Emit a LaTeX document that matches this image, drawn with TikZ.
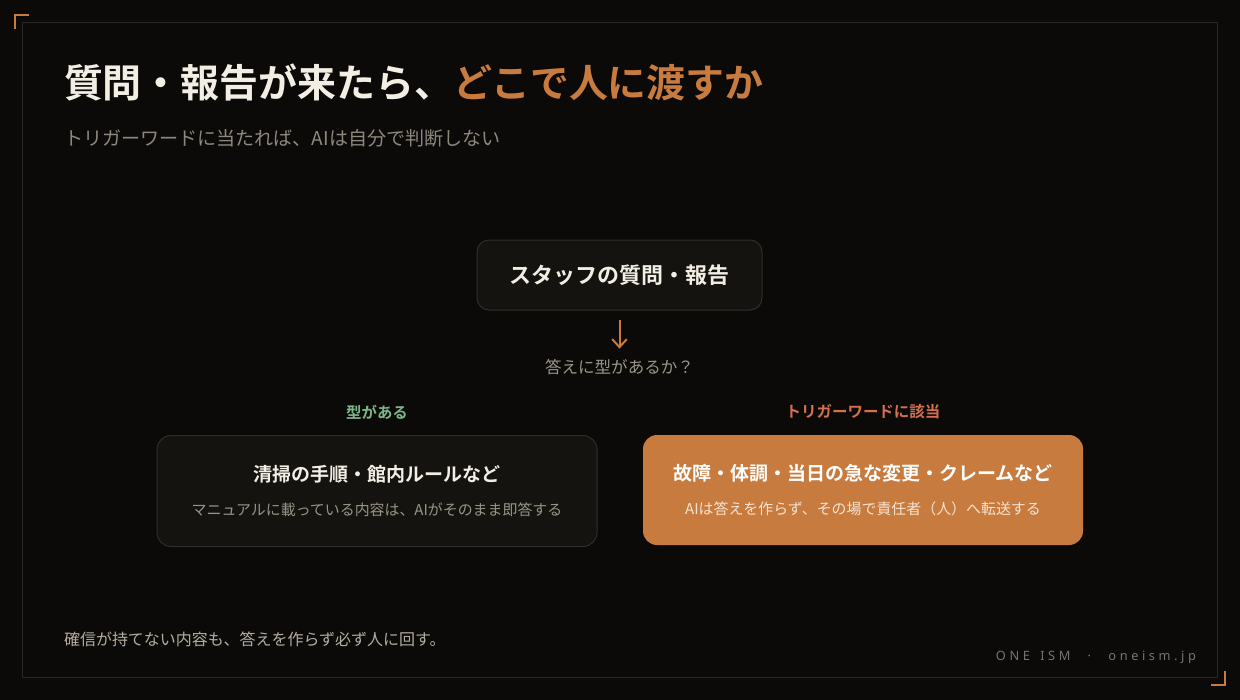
\documentclass[tikz,border=0pt]{standalone}
\usepackage{fontspec}
\usetikzlibrary{arrows.meta}
\newfontfamily\jp[BoldFont={Noto Sans CJK JP Bold}]{Noto Sans CJK JP}
\newfontfamily\brandfont[LetterSpace=28,WordSpace=1.5]{Noto Sans}
\definecolor{bgc}{HTML}{0B0A09}
\definecolor{framec}{HTML}{2A2826}
\definecolor{accent}{HTML}{C87B3E}
\definecolor{cardfill}{HTML}{141310}
\definecolor{cardline}{HTML}{2F2D29}
\definecolor{titlec}{HTML}{F3EEE4}
\definecolor{subc}{HTML}{8E887C}
\definecolor{qc}{HTML}{9B9588}
\definecolor{greenc}{HTML}{7DB58A}
\definecolor{redc}{HTML}{D4704F}
\definecolor{cardsub}{HTML}{9A9486}
\definecolor{hotsub}{HTML}{F6E3D0}
\definecolor{footc}{HTML}{B4AD9F}
\definecolor{brandc}{HTML}{77736C}
\begin{document}
\begin{tikzpicture}[x=0.75pt,y=-0.75pt,
  txt/.style={inner sep=0pt,outer sep=0pt},
  card/.style={draw=cardline,fill=cardfill,line width=0.75pt,inner sep=0pt},
  hotcard/.style={fill=accent,inner sep=0pt},
  bracket/.style={draw=accent,line width=1.5pt},
  cardtitle/.style={txt,font=\jp\bfseries\fontsize{14.25pt}{14.25pt}\selectfont},
  cardsubtxt/.style={txt,font=\jp\fontsize{11.2pt}{11.2pt}\selectfont},
  label/.style={txt,font=\jp\bfseries\fontsize{11.6pt}{11.6pt}\selectfont}]
\fill[bgc] (0,0) rectangle (1240,700);
\draw[framec,line width=0.75pt] (22.5,22.5) rectangle (1217.5,677.5);
\draw[bracket] (15,29) -- (15,15) -- (29,15);
\draw[bracket] (1225,671) -- (1225,685) -- (1211,685);
% title
\node[txt,anchor=west,font=\jp\bfseries\fontsize{29.2pt}{29.2pt}\selectfont,text=titlec] (title) at (64,82)
  {質問・報告が来たら、\textcolor{accent}{どこで人に渡すか}};
\node[txt,anchor=west,font=\jp\fontsize{14.3pt}{14.3pt}\selectfont,text=subc] (subtitle) at (64,138)
  {トリガーワードに当たれば、AIは自分で判断しない};
% top box
\node[card,rounded corners=9pt,minimum width=213.75pt,minimum height=52.5pt] (top) at (619.5,275) {};
\node[txt,font=\jp\bfseries\fontsize{16.5pt}{16.5pt}\selectfont,text=titlec] (toptxt) at (top.center) {スタッフの質問・報告};
\node[txt,font=\jp\fontsize{12.4pt}{12.4pt}\selectfont,text=qc] (q) at (619.5,367) {答えに型があるか？};
\draw[accent,line width=1.5pt,-{Straight Barb[length=6pt,width=11pt]},shorten <=7pt,shorten >=8pt] (top.south) -- (q.north);
% labels
\node[label,text=greenc] (lab1) at (377,412) {型がある};
\node[label,text=redc] (lab2) at (863,412) {トリガーワードに該当};
% left card
\node[card,rounded corners=10.5pt,minimum width=330pt,minimum height=83.25pt] (left) at (377,491) {};
\node[cardtitle,text=titlec] (lefttitle) at (377,474) {清掃の手順・館内ルールなど};
\node[cardsubtxt,text=cardsub] (leftsub) at (377,510) {マニュアルに載っている内容は、AIがそのまま即答する};
% right card
\node[hotcard,rounded corners=10.5pt,minimum width=330pt,minimum height=82.5pt] (right) at (863,490) {};
\node[cardtitle,text=white] (righttitle) at (863,473) {故障・体調・当日の急な変更・クレームなど};
\node[cardsubtxt,text=hotsub] (rightsub) at (863,509) {AIは答えを作らず、その場で責任者（人）へ転送する};
% footer
\node[txt,anchor=west,font=\jp\fontsize{12pt}{12pt}\selectfont,text=footc] (foot) at (64,639) {確信が持てない内容も、答えを作らず必ず人に回す。};
\node[txt,anchor=east,font=\brandfont\fontsize{9.6pt}{9.6pt}\selectfont,text=brandc] (brand) at (1196,657) {ONE ISM\hspace{1.35em}·\hspace{1.35em}oneism.jp};
\end{tikzpicture}
\end{document}
